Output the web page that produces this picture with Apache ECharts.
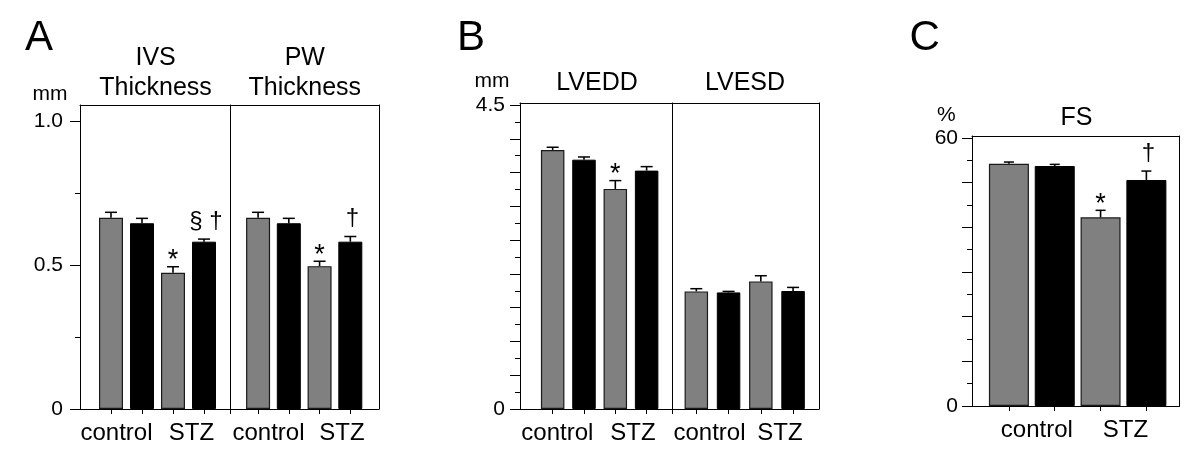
<!DOCTYPE html>
<html><head><meta charset="utf-8">
<script src="https://cdn.jsdelivr.net/npm/echarts@6/dist/echarts.min.js"></script>
<style>html,body{margin:0;padding:0;background:#fff}#c{width:1200px;height:456px}</style>
</head><body><div id="c"></div>
<script>
// ---------- data ----------
const groups = ['control', 'STZ'];
const barSlots = ['control-1', 'control-2', 'STZ-1', 'STZ-2'];

// Panel A (mm)
const ivsGray = [0.664, 0.473], ivsGraySem = [0.019, 0.021];
const ivsBlack = [0.645, 0.581], ivsBlackSem = [0.017, 0.009];
const ivsGrayMarks = ['', '*'], ivsBlackMarks = ['', '§ †'];
const pwGray = [0.664, 0.496], pwGraySem = [0.019, 0.017];
const pwBlack = [0.645, 0.581], pwBlackSem = [0.017, 0.018];
const pwGrayMarks = ['', '*'], pwBlackMarks = ['', '†'];
const aMajorTicks = [0, 0.5, 1.0], aMinorTicks = [0.25, 0.75];
const aLabelValues = [0, 0.5, 1.0], aTickLabels = ['0', '0.5', '1.0'];

// Panel B (mm)
const lveddGray = [3.835, 3.258], lveddGraySem = [0.040, 0.123];
const lveddBlack = [3.691, 3.529], lveddBlackSem = [0.040, 0.059];
const lveddGrayMarks = ['', '*'], lveddBlackMarks = ['', ''];
const lvesdGray = [1.741, 1.889], lvesdGraySem = [0.040, 0.084];
const lvesdBlack = [1.726, 1.747], lvesdBlackSem = [0.015, 0.053];
const lvesdGrayMarks = ['', ''], lvesdBlackMarks = ['', ''];
const bMajorTicks = [0, 0.5, 1, 1.5, 2, 2.5, 3, 3.5, 4, 4.5];
const bMinorTicks = [0.25, 0.75, 1.25, 1.75, 2.25, 2.75, 3.25, 3.75, 4.25];
const bLabelValues = [0, 4.5], bTickLabels = ['0', '4.5'];

// Panel C (%)
const fsGray = [54.24, 42.24], fsGraySem = [0.38, 1.57];
const fsBlack = [53.73, 50.6], fsBlackSem = [0.37, 2.0];
const fsGrayMarks = ['', '*'], fsBlackMarks = ['', '†'];
const cMajorTicks = [0, 10, 20, 30, 40, 50, 60];
const cMinorTicks = [5, 15, 25, 35, 45, 55];
const cLabelValues = [0, 60], cTickLabels = ['0', '60'];

// ---------- build ----------
const FONT = '"Liberation Sans", Arial, Helvetica, sans-serif';
const grid = [], xAxis = [], yAxis = [], series = [];
const LS = {color: '#000', width: 1};

function addFrame(c) {
  const g = grid.length;
  grid.push({left: c.left, top: c.top, width: c.width, height: c.height});
  xAxis.push({gridIndex: g, type: 'value', min: 0, max: 1, position: 'bottom',
    axisLine: {show: true, onZero: false, lineStyle: LS},
    axisTick: c.dividerTick ? {show: true, customValues: [1], length: 5, lineStyle: LS} : {show: false},
    axisLabel: {show: false}, splitLine: {show: false}});
  xAxis.push({gridIndex: g, type: 'value', min: 0, max: 1, position: 'top',
    axisLine: {show: true, onZero: false, lineStyle: LS}, axisTick: {show: false},
    axisLabel: {show: false}, splitLine: {show: false}});
  yAxis.push({gridIndex: g, type: 'value', min: 0, max: c.yMax, position: 'right',
    axisLine: {show: true, onZero: false, lineStyle: LS}, axisTick: {show: false},
    axisLabel: {show: false}, splitLine: {show: false}});
  if (c.axis) {
    const a = c.axis;
    yAxis.push({gridIndex: g, type: 'value', min: 0, max: c.yMax, position: 'left',
      axisLine: {show: true, onZero: false, lineStyle: LS},
      axisTick: {show: true, customValues: a.major, length: 10, lineStyle: LS},
      axisLabel: {show: true, customValues: a.labelValues,
        formatter: v => { const i = a.labelValues.findIndex(t => Math.abs(t - v) < 1e-9); return i >= 0 ? a.labels[i] : ''; },
        fontSize: 21, fontFamily: FONT, color: '#000', margin: a.margin},
      splitLine: {show: false}});
    yAxis.push({gridIndex: g, type: 'value', min: 0, max: c.yMax, position: 'left',
      axisLine: {show: false, onZero: false},
      axisTick: {show: true, customValues: a.minor, length: 5, lineStyle: LS},
      axisLabel: {show: false}, splitLine: {show: false}});
  }
}

function makeErr(side, marks, capW) {
  return function (params, api) {
    const ci = api.value(0), m = api.value(1), s = api.value(2);
    const band = api.size([1, 0])[0];
    const p0 = api.coord([ci, m]), p1 = api.coord([ci, m + s]);
    const x = p0[0] + side * band / 4;
    const children = [
      {type: 'line', shape: {x1: x, y1: p0[1], x2: x, y2: p1[1]}, style: {stroke: '#000', lineWidth: 1.6}},
      {type: 'line', shape: {x1: x - capW / 2, y1: p1[1], x2: x + capW / 2, y2: p1[1]}, style: {stroke: '#000', lineWidth: 1.5}}
    ];
    const mk = marks[params.dataIndex];
    if (mk) {
      const star = mk === '*';
      children.push({type: 'text', x: x + (star ? 0 : 2), y: p1[1] - (star ? 6 : 18),
        style: {text: mk, font: (star ? 27 : 24) + 'px ' + FONT, fill: '#000', align: 'center', verticalAlign: 'middle'}});
    }
    return {type: 'group', children};
  };
}

// horizontal nudge of a category label (style only), via padding
function shiftLabel(name, dx) {
  const p = Math.abs(dx) * 2;
  return {value: name, textStyle: {padding: dx < 0 ? [0, p, 0, 0] : [0, 0, 0, p]}};
}

function addInner(c) {
  const g = grid.length;
  grid.push({left: c.left, top: c.top, width: c.width, height: c.height});
  const xi = xAxis.length;
  xAxis.push({gridIndex: g, type: 'category', position: 'bottom',
    data: groups.map((n, i) => shiftLabel(n, c.labelShift[i])),
    axisLine: {show: false, onZero: false}, axisTick: {show: false},
    axisLabel: {show: true, interval: 0, fontSize: 24, fontFamily: FONT, color: '#000', margin: 12},
    splitLine: {show: false}});
  xAxis.push({gridIndex: g, type: 'category', data: barSlots, position: 'bottom',
    axisLine: {show: false, onZero: false},
    axisTick: {show: true, interval: 0, alignWithLabel: true, length: 5, lineStyle: LS},
    axisLabel: {show: false}, splitLine: {show: false}});
  const yi = yAxis.length;
  yAxis.push({gridIndex: g, type: 'value', min: 0, max: c.yMax, show: false});
  const spacing = c.width / 4;
  const gap = ((spacing - c.barWidth) / c.barWidth * 100).toFixed(2) + '%';
  series.push({type: 'bar', name: 'gray', xAxisIndex: xi, yAxisIndex: yi, data: c.gray,
    barWidth: c.barWidth, barGap: gap, silent: true,
    itemStyle: {color: '#808080', borderColor: '#1a1a1a', borderWidth: 1.2}});
  series.push({type: 'bar', name: 'black', xAxisIndex: xi, yAxisIndex: yi, data: c.black,
    barWidth: c.barWidth, barGap: gap, silent: true,
    itemStyle: {color: '#000', borderColor: '#000', borderWidth: 1}});
  series.push({type: 'custom', xAxisIndex: xi, yAxisIndex: yi, z: 5, silent: true,
    data: c.gray.map((v, i) => [i, v, c.graySem[i]]), encode: {x: 0, y: 1},
    renderItem: makeErr(-1, c.grayMarks, c.capW)});
  series.push({type: 'custom', xAxisIndex: xi, yAxisIndex: yi, z: 5, silent: true,
    data: c.black.map((v, i) => [i, v, c.blackSem[i]]), encode: {x: 0, y: 1},
    renderItem: makeErr(1, c.blackMarks, c.capW)});
}

// Panel A
const aTop = 105, aH = 304, aMax = 1.0556;
addFrame({left: 80, top: aTop, width: 150, height: aH, yMax: aMax, dividerTick: true,
  axis: {major: aMajorTicks, minor: aMinorTicks, labelValues: aLabelValues, labels: aTickLabels, margin: 17}});
addFrame({left: 230, top: aTop, width: 149, height: aH, yMax: aMax});
addInner({left: 95.5, width: 124, top: aTop, height: aH, yMax: aMax, barWidth: 24, capW: 12, labelShift: [-10, 3],
  gray: ivsGray, graySem: ivsGraySem, black: ivsBlack, blackSem: ivsBlackSem, grayMarks: ivsGrayMarks, blackMarks: ivsBlackMarks});
addInner({left: 242.7, width: 123, top: aTop, height: aH, yMax: aMax, barWidth: 24, capW: 12, labelShift: [-5, 7],
  gray: pwGray, graySem: pwGraySem, black: pwBlack, blackSem: pwBlackSem, grayMarks: pwGrayMarks, blackMarks: pwBlackMarks});

// Panel B
const bTop = 103, bH = 306, bMax = 4.53;
addFrame({left: 520, top: bTop, width: 152, height: bH, yMax: bMax, dividerTick: true,
  axis: {major: bMajorTicks, minor: bMinorTicks, labelValues: bLabelValues, labels: bTickLabels, margin: 15}});
addFrame({left: 672, top: bTop, width: 147, height: bH, yMax: bMax});
addInner({left: 537, width: 125.3, top: bTop, height: bH, yMax: bMax, barWidth: 23.5, capW: 12, labelShift: [-11, 2],
  gray: lveddGray, graySem: lveddGraySem, black: lveddBlack, blackSem: lveddBlackSem, grayMarks: lveddGrayMarks, blackMarks: lveddBlackMarks});
addInner({left: 680.2, width: 129, top: bTop, height: bH, yMax: bMax, barWidth: 23.5, capW: 12, labelShift: [-3, 3],
  gray: lvesdGray, graySem: lvesdGraySem, black: lvesdBlack, blackSem: lvesdBlackSem, grayMarks: lvesdGrayMarks, blackMarks: lvesdBlackMarks});

// Panel C
const cTop = 136, cH = 270, cMax = 60.45;
addFrame({left: 972, top: cTop, width: 207.5, height: cH, yMax: cMax,
  axis: {major: cMajorTicks, minor: cMinorTicks, labelValues: cLabelValues, labels: cTickLabels, margin: 14}});
addInner({left: 986, width: 183.3, top: cTop, height: cH, yMax: cMax, barWidth: 40, capW: 10, labelShift: [5, 2],
  gray: fsGray, graySem: fsGraySem, black: fsBlack, blackSem: fsBlackSem, grayMarks: fsGrayMarks, blackMarks: fsBlackMarks});

function txt(text, x, baseline, size, align) {
  return {type: 'text', x: x, y: baseline - 0.35 * size, silent: true,
    style: {text: text, font: size + 'px ' + FONT, fill: '#000', align: align || 'center', verticalAlign: 'middle'}};
}
const graphic = [
  txt('A', 25, 53.3, 42, 'left'),
  txt('B', 457, 53.3, 42, 'left'),
  txt('C', 909.5, 53.3, 42, 'left'),
  txt('mm', 32.6, 101.7, 21, 'left'),
  txt('IVS', 155.6, 66.7, 25),
  txt('Thickness', 155.6, 96.5, 25),
  txt('PW', 304.8, 66.7, 25),
  txt('Thickness', 304.8, 96.5, 25),
  txt('mm', 474.6, 88.3, 21, 'left'),
  txt('LVEDD', 597, 92, 25),
  txt('LVESD', 745, 92, 25),
  txt('%', 937, 123, 21, 'left'),
  txt('FS', 1076.5, 127, 25)
];

const chart = echarts.init(document.getElementById('c'), null, {renderer: 'canvas'});
chart.setOption({animation: false, backgroundColor: '#fff', grid, xAxis, yAxis, series, graphic});
</script></body></html>
